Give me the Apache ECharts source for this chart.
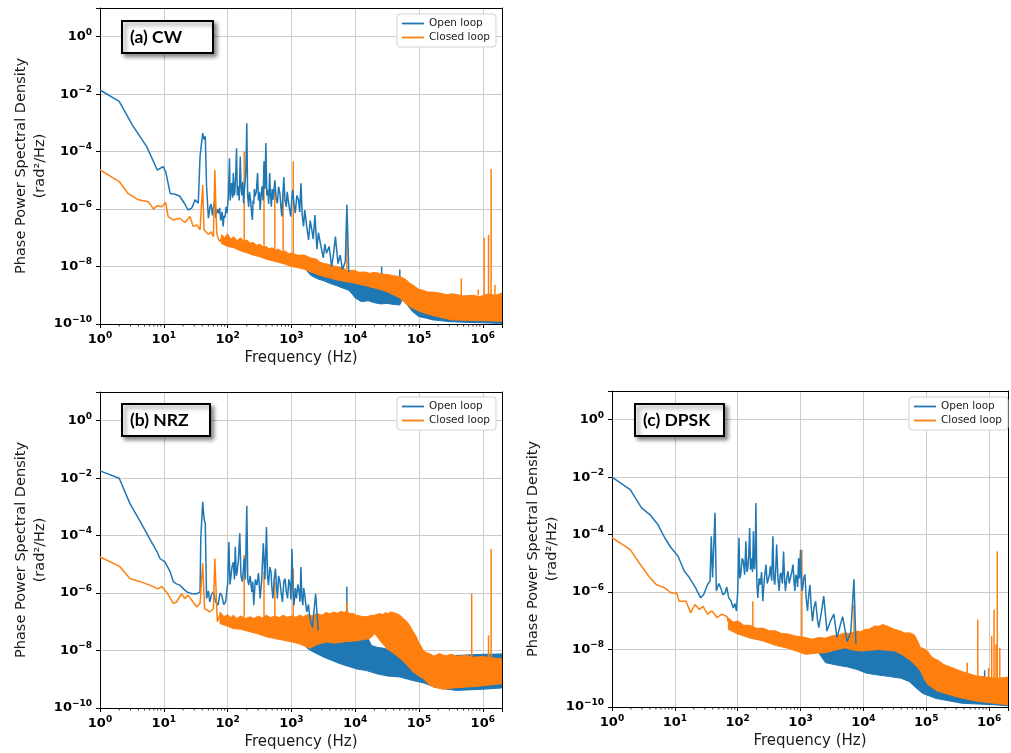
<!DOCTYPE html>
<html><head><meta charset="utf-8">
<script src="https://cdn.jsdelivr.net/npm/echarts@6/dist/echarts.min.js"></script>
<style>html,body{margin:0;padding:0;background:#fff}#c{width:1011px;height:753px}</style>
</head><body><div id="c"></div>
<script>
// ---------- tick labels / names ----------
const panelTitles = ['(a) CW', '(b) NRZ', '(c) DPSK'];
const seriesNames = ['Open loop', 'Closed loop'];
const xName = 'Frequency (Hz)';
const yName = 'Phase Power Spectral Density\n(rad\u00b2/Hz)';
const minorTickFreqs = [2,3,4,5,6,7,8,9,20,30,40,50,60,70,80,90,200,300,400,500,600,700,800,900,
  2e3,3e3,4e3,5e3,6e3,7e3,8e3,9e3,2e4,3e4,4e4,5e4,6e4,7e4,8e4,9e4,2e5,3e5,4e5,5e5,6e5,7e5,8e5,9e5];

// ---------- (a) CW ----------
const cwOpenLine = [[1,1.4e-2],[2,5.6e-3],[3.2,8.5e-4],[5.4,1.5e-4],[7.9,2.3e-5],[9.8,3.0e-5],[10.7,2.0e-5],[12.6,3.5e-6],[15,3.3e-6],[17.8,2.8e-6],[21,1.6e-6],[24,9.3e-7],[27.5,1.1e-6],[31,2.1e-6],[34.7,1.6e-6],[37,6.8e-5],[40.7,4.4e-4],[42.7,2.6e-4],[44.7,3.4e-4],[46.8,6.2e-6],[50,4.8e-7],[53,1.2e-6],[55,1.5e-6],[58,6e-7],[60,1.2e-6],[63,2e-6],[65,5e-7],[68,1e-6],[71,7.2e-7],[75,1.1e-6],[78,4e-7],[82,8e-7],[85,2.5e-7],[88,6e-7],[91,5e-7],[95,1.2e-6],[98,7.2e-7],[103,3e-6],[107,5.9e-5],[110,2e-6],[112,3.5e-6],[116,8e-6],[120,2.5e-6],[123,1.8e-5],[127,3e-6],[130,4e-6],[134,1.5e-5],[138,1.3e-4],[142,3e-6],[148,6.2e-6],[152,2e-6],[158,6.8e-5],[163,5e-6],[168,3e-6],[173,9e-6],[178,1.6e-6],[182,4e-6],[186,6.2e-6],[193,2e-5],[200,9.8e-4],[206,3e-6],[214,1.2e-6],[220,4e-6],[229,2.1e-6],[237,8e-7],[245,4.2e-7],[251,2e-6],[257,1.5e-6],[263,5e-6],[269,2.8e-6],[282,4e-6],[295,1.8e-5],[305,2e-6],[314,4e-6],[324,9.3e-7],[335,3e-6],[347,6.2e-6],[360,2e-6],[372,4.6e-5],[385,5e-6],[398,2.0e-4],[412,3e-6],[427,4.7e-6],[440,1.5e-6],[457,1.8e-5],[470,3e-6],[485,1.2e-6],[500,5e-6],[513,2.1e-6],[530,4e-6],[550,1.0e-5],[575,2.5e-6],[603,1.6e-6],[630,6e-6],[661,3.5e-6],[685,1.2e-6],[708,5.5e-7],[735,3e-6],[759,1.3e-5],[795,2e-6],[832,1.2e-6],[860,4e-6],[891,2.1e-6],[935,1e-6],[977,5.5e-7],[1010,2e-6],[1050,4.7e-6],[1100,1.5e-6],[1150,7.2e-7],[1220,3e-6],[1290,2.1e-6],[1350,8e-7],[1410,7.9e-6],[1480,6e-7],[1550,2.5e-7],[1620,9.3e-7],[1740,2.5e-7],[1860,8.5e-8],[1970,4e-7],[2090,1.9e-7],[2200,9e-8],[2340,6.2e-7],[2510,4e-8],[2650,1.5e-7],[2820,1.3e-7],[3000,3.5e-8],[3160,2e-8],[3350,6e-8],[3550,2.9e-8],[3900,5e-8],[4270,1e-8],[4600,3e-8],[4900,1.1e-7],[5370,1.26e-8],[5800,2.5e-8],[6310,7.9e-9],[7000,1.5e-8],[7410,1.4e-6],[7940,6.3e-9]];
const cwOpenBandHi = [[1600,2.2e-8],[2000,1.8e-8],[2500,1.5e-8],[3200,1.2e-8],[4000,1e-8],[5000,8.5e-9],[6300,7e-9],[7900,6e-9],[1e4,4e-9],[1.3e4,3.5e-9],[1.6e4,3.2e-9],[2e4,3e-9],[2.5e4,2.8e-9],[3.2e4,2.6e-9],[4e4,2.5e-9],[5e4,2.4e-9],[6e4,2.2e-9],[7e4,1.6e-9],[8e4,1.2e-9],[1e5,8e-10],[1.2e5,6e-10],[1.6e5,4.5e-10],[2e5,4e-10],[3e5,3.4e-10],[4e5,3e-10],[6e5,2.7e-10],[8e5,2.5e-10],[1.2e6,2.5e-10],[2e6,2.5e-10]];
const cwOpenBandLo = [[1600,9e-9],[2000,5e-9],[2500,3.8e-9],[3200,3.2e-9],[4000,2.6e-9],[5000,2.2e-9],[6300,1.8e-9],[7900,1.5e-9],[9000,1.1e-9],[1e4,8e-10],[1.26e4,6e-10],[1.6e4,6.5e-10],[2e4,5.5e-10],[2.5e4,5e-10],[3.2e4,5.2e-10],[4e4,4.8e-10],[5e4,4.6e-10],[5.6e4,8e-10],[6.6e4,4.5e-10],[7.9e4,2.7e-10],[1e5,1.8e-10],[1.3e5,1.6e-10],[1.6e5,1.4e-10],[2.2e5,1.3e-10],[3.2e5,1.2e-10],[5e5,1.15e-10],[1e6,1.1e-10],[2e6,1.05e-10]];
const cwOpenSpikes = [[2.6e4,2.8e-9,1.0e-8],[5e4,2.4e-9,7.9e-9]];
const cwClosedLine = [[1,2.3e-5],[2,9.1e-6],[2.75,3.5e-6],[4,2.1e-6],[5.75,1.8e-6],[6.9,1.0e-6],[7.8,1.3e-6],[9.3,1.2e-6],[10.7,1.7e-6],[11.7,5.5e-7],[14.1,4.2e-7],[17.8,4.8e-7],[21.4,3.4e-7],[25.7,5.5e-7],[28.8,2.5e-7],[33,2.8e-7],[37,1.9e-7],[40.7,6.9e-6],[42.7,1.9e-7],[50,1.3e-7],[55,1.6e-7],[60,1.1e-7],[63,2.3e-5],[67.6,1.4e-7],[72,9e-8],[76,7.4e-8],[82,1.1e-7]];
const cwClosedBandHi = [[80,1.3e-7],[90,1e-7],[100,1.4e-7],[112,9e-8],[125,1.1e-7],[140,8e-8],[160,1e-7],[180,7.5e-8],[200,8.5e-8],[225,6.5e-8],[250,7e-8],[285,5.5e-8],[320,6e-8],[360,4.8e-8],[400,5e-8],[450,4.2e-8],[500,4.5e-8],[560,3.8e-8],[630,4e-8],[710,3.3e-8],[800,3.5e-8],[900,2.8e-8],[1000,3e-8],[1250,2.5e-8],[1600,2.5e-8],[2000,2e-8],[2500,1.8e-8],[2800,1.4e-8],[3200,1.3e-8],[4000,1.15e-8],[5000,1e-8],[6300,9e-9],[8000,7e-9],[9300,7.6e-9],[1.15e4,6.3e-9],[1.4e4,6.5e-9],[1.7e4,5.8e-9],[2e4,6.3e-9],[2.7e4,5.5e-9],[3.5e4,5.1e-9],[4.2e4,4.7e-9],[5e4,4.5e-9],[5.6e4,4e-9],[6.3e4,3.5e-9],[7.2e4,2.6e-9],[8e4,2.3e-9],[9e4,1.9e-9],[1e5,1.6e-9],[1.17e5,1.5e-9],[1.35e5,1.3e-9],[1.6e5,1.3e-9],[2.1e5,1.2e-9],[2.7e5,1.05e-9],[3.3e5,1.12e-9],[4e5,1.05e-9],[5e5,9.5e-10],[7e5,1.0e-9],[9e5,9e-10],[1.2e6,1.1e-9],[1.6e6,1e-9],[2e6,1.2e-9]];
const cwClosedBandLo = [[80,6.3e-8],[100,5e-8],[125,4.5e-8],[160,3.5e-8],[200,3e-8],[250,2.5e-8],[320,2.2e-8],[400,1.8e-8],[500,1.6e-8],[630,1.4e-8],[800,1.2e-8],[1000,1e-8],[1300,9e-9],[1600,8e-9],[2200,6e-9],[3200,4.5e-9],[4000,4e-9],[5000,3.5e-9],[7000,3e-9],[9300,2.7e-9],[1.4e4,2.2e-9],[2e4,1.8e-9],[2.7e4,1.5e-9],[3.5e4,1.2e-9],[5e4,8e-10],[6e4,5.5e-10],[7.2e4,4e-10],[1e5,2.8e-10],[1.3e5,2.3e-10],[1.6e5,2e-10],[2.2e5,1.7e-10],[3.2e5,1.4e-10],[5e5,1.35e-10],[1e6,1.3e-10],[2e6,1.25e-10]];
const cwClosedSpikes = [[182,7e-8,1.0e-4],[372,4e-8,3.5e-5],[550,3.5e-8,9.1e-6],[741,3e-8,3.5e-6],[1070,2.5e-8,4.6e-5],[7400,8e-9,2.8e-7],[4.6e5,1e-9,3.9e-9],[8.5e5,1e-9,1.6e-9],[1.05e6,1e-9,1.0e-7],[1.23e6,1e-9,1.26e-7],[1.35e6,1e-9,2.5e-5],[1.55e6,1e-9,2.3e-9]];

// ---------- (b) NRZ ----------
const nrzOpenLine = [[1,1.8e-2],[2,1.0e-2],[2.95,1.3e-3],[4.3,3.0e-4],[6,7.9e-5],[7.8,2.8e-5],[8.7,1.6e-5],[10.5,1.2e-5],[12.6,5.5e-6],[14.1,2.5e-6],[15.8,2.1e-6],[17.8,1.9e-6],[20.4,1.4e-6],[23,1.1e-6],[27.5,9.5e-7],[33,9.5e-7],[37,1.1e-6],[38,7.9e-5],[40.7,1.5e-3],[42.7,4.0e-4],[44.7,2.6e-4],[46.8,6.5e-7],[50,1.2e-6],[52.5,4.9e-7],[56,9e-7],[60,1.1e-6],[65,5e-7],[71,3.8e-7],[76,1e-6],[81,8.5e-7],[87,4e-7],[93,4.9e-7],[100,2e-6],[105,6.0e-5],[109,2e-6],[112,3.2e-6],[117,8e-6],[123,1.2e-5],[128,3e-6],[132,4.1e-5],[137,4e-6],[141,5.5e-6],[148,1.5e-5],[155,1.2e-4],[162,4e-6],[170,2.5e-6],[176,6e-6],[182,1.6e-5],[190,3e-6],[200,1.1e-3],[207,3e-6],[214,1.9e-6],[226,4e-6],[240,1.1e-6],[248,2.5e-6],[257,3.8e-7],[272,3e-6],[288,1.9e-6],[305,5e-6],[324,6.5e-7],[343,3e-6],[363,5.4e-5],[385,3e-6],[407,2.0e-4],[422,4e-6],[437,1.9e-6],[458,8e-6],[479,5.5e-6],[495,1.5e-6],[513,6.5e-7],[537,3e-6],[562,7.1e-6],[582,2e-6],[603,6.5e-7],[630,4e-6],[661,2.5e-6],[692,1e-6],[724,4.9e-7],[760,2.5e-6],[794,3.2e-6],[830,1.2e-6],[871,6.5e-7],[912,3e-6],[955,1.9e-6],[985,6e-7],[1020,3.4e-5],[1060,1.2e-6],[1100,3.8e-7],[1150,1.5e-6],[1200,6.5e-7],[1260,2e-6],[1320,1.1e-6],[1365,5e-7],[1410,8.1e-6],[1460,7e-7],[1510,3.8e-7],[1560,1.5e-6],[1620,8.5e-7],[1680,4e-7],[1740,2.2e-7],[1850,4e-7],[1950,1.3e-7],[2140,6.3e-8],[2400,9.5e-7],[2630,5e-8]];
const nrzOpenBandHi = [[1700,1.4e-8],[2000,1.3e-8],[2500,1.7e-8],[3500,2.1e-8],[6000,2.1e-8],[1e4,2.4e-8],[1.6e4,2.6e-8],[1.8e4,1.5e-8],[2.2e4,1.3e-8],[2.8e4,1.2e-8],[3.2e4,1.1e-8],[4e4,8e-9],[5e4,8e-9],[5.6e4,1e-8],[6.3e4,1e-8],[7e4,6.3e-9],[1e5,5e-9],[2e5,6e-9],[3e5,6.6e-9],[1e6,7.4e-9],[2e6,7.6e-9]];
const nrzOpenBandLo = [[1700,1.3e-8],[2000,1e-8],[3160,6e-9],[5750,3.5e-9],[1.05e4,2.3e-9],[1.5e4,2.0e-9],[2.2e4,1.55e-9],[3.2e4,1.3e-9],[5e4,1.2e-9],[8e4,9e-10],[1.2e5,7.4e-10],[1.7e5,5.5e-10],[2.4e5,4.7e-10],[3.9e5,4.1e-10],[1e6,4.5e-10],[2e6,5e-10]];
const nrzOpenSpikes = [[7400,2e-8,1.7e-6]];
const nrzClosedLine = [[1,1.8e-5],[2,8.7e-6],[2.95,3.2e-6],[4.3,2.5e-6],[6,1.9e-6],[8.1,1.4e-6],[9.3,1.7e-6],[11,1.1e-6],[14.1,4.4e-7],[15.8,4.9e-7],[19,9.5e-7],[21.4,6.5e-7],[24,8.5e-7],[27.5,5.6e-7],[33,3.3e-7],[37,4.4e-7],[40.7,1.1e-5],[43.6,2.9e-7],[52.5,2.2e-7],[60,2.9e-7],[63,1.6e-5],[69,1.0e-7],[76,1.8e-7]];
const nrzClosedBandHi = [[76,2.2e-7],[88,1.5e-7],[100,1.8e-7],[112,1.4e-7],[123,1.7e-7],[140,1.3e-7],[160,1.6e-7],[190,1.3e-7],[224,1.5e-7],[260,1.3e-7],[300,1.6e-7],[350,1.35e-7],[407,1.7e-7],[470,1.4e-7],[550,1.6e-7],[640,1.4e-7],[741,1.7e-7],[860,1.45e-7],[1000,1.6e-7],[1170,1.45e-7],[1350,1.7e-7],[1550,1.5e-7],[1800,1.8e-7],[2100,1.6e-7],[2510,1.95e-7],[3000,1.7e-7],[3500,2.1e-7],[4000,1.9e-7],[4570,2.2e-7],[5200,2e-7],[6000,2.3e-7],[6800,2.1e-7],[7400,2.5e-7],[8200,1.9e-7],[9000,2e-7],[1.05e4,1.7e-7],[1.25e4,1.55e-7],[1.5e4,1.5e-7],[1.75e4,1.65e-7],[2e4,1.7e-7],[2.45e4,1.95e-7],[2.7e4,1.8e-7],[3e4,2.1e-7],[3.3e4,1.9e-7],[3.55e4,2.2e-7],[4.3e4,2e-7],[5e4,1.7e-7],[5.7e4,1.3e-7],[6.5e4,1e-7],[7.3e4,7e-8],[8.1e4,4.5e-8],[9e4,3.2e-8],[9.8e4,2e-8],[1.08e5,1.4e-8],[1.17e5,1e-8],[1.3e5,8.5e-9],[1.48e5,7.8e-9],[1.7e5,6.5e-9],[2.1e5,7.8e-9],[2.6e5,6.5e-9],[3.2e5,7.4e-9],[4e5,6.3e-9],[5.6e5,6.8e-9],[7e5,5.8e-9],[1e6,6.2e-9],[1.4e6,5.5e-9],[2e6,5.2e-9]];
const nrzClosedBandLo = [[76,8.7e-8],[100,7e-8],[123,5.8e-8],[160,5.5e-8],[224,4.5e-8],[300,3.8e-8],[407,3e-8],[550,2.6e-8],[741,2.3e-8],[1000,2e-8],[1350,1.7e-8],[1950,1.2e-8],[2500,1.6e-8],[3550,2e-8],[4800,1.8e-8],[6460,2e-8],[9000,2.1e-8],[1.2e4,2.3e-8],[1.7e4,2.6e-8],[2.04e4,3.9e-8],[2.45e4,2.2e-8],[3.1e4,1.2e-8],[4.4e4,6.8e-9],[5.5e4,4.5e-9],[6.5e4,3.1e-9],[8.1e4,1.8e-9],[1e5,1.3e-9],[1.17e5,1.05e-9],[1.4e5,7e-10],[1.66e5,5.4e-10],[2.4e5,4.5e-10],[3.5e5,5e-10],[5.6e5,5.4e-10],[8e5,5.6e-10],[1.15e6,6.2e-10],[2e6,7e-10]];
const nrzClosedSpikes = [[182,5e-8,2.1e-5],[372,4e-8,5.5e-6],[550,3e-8,2.5e-6],[1070,2e-8,7.1e-6],[7400,2e-7,4.9e-7],[6.7e5,1e-9,9.5e-7],[1.23e6,1e-9,3.4e-8],[1.35e6,1e-9,3.4e-5]];

// ---------- (c) DPSK ----------
const dpskOpenLine = [[1,1.0e-2],[1.95,3.7e-3],[2.95,8.5e-4],[4,5.0e-4],[5.4,2.2e-4],[6.9,7.8e-5],[8.7,3.5e-5],[11.2,1.8e-5],[14.1,5.4e-6],[17,3.2e-6],[21.4,1.4e-6],[25.7,6.3e-7],[28.8,8.3e-7],[33,1.8e-6],[36.3,2.4e-6],[38,8.7e-5],[39.8,3.2e-6],[43.6,5.8e-4],[45.7,1.1e-6],[50,2e-6],[53.7,1.4e-6],[58,8e-7],[63,9.3e-7],[67,1.5e-6],[72,6.3e-7],[78,5e-7],[85,2.8e-7],[90,4e-7],[95.5,2.2e-7],[100,1e-6],[105,7.8e-5],[108,3e-6],[112,4.1e-6],[118,1.5e-5],[123,1.2e-5],[129,4e-6],[135,5.9e-5],[140,5e-6],[145,6.9e-6],[150,2e-5],[155,1.7e-4],[160,6e-6],[166,1.5e-5],[172,5e-6],[178,1.3e-4],[182,8e-6],[186,6.2e-6],[190,2e-5],[195,1.26e-3],[202,2e-6],[209,6.3e-7],[219,3e-6],[229,1.8e-6],[240,5e-6],[251,4.8e-7],[266,3e-6],[282,9.1e-6],[295,2e-6],[309,1.8e-6],[320,4e-6],[331,7.9e-6],[347,2.5e-6],[363,8.7e-5],[376,3e-6],[389,1.8e-6],[403,6e-6],[417,4.5e-5],[437,3e-6],[457,1.1e-6],[473,4e-6],[490,4.7e-6],[513,2e-6],[537,2.6e-5],[556,3e-6],[575,1.1e-6],[603,3e-6],[631,5.4e-6],[661,2e-6],[692,1.8e-6],[725,5e-6],[759,9.1e-6],[786,2.5e-6],[813,1.1e-6],[842,4e-6],[871,3.2e-6],[900,1.5e-6],[933,1.5e-5],[965,3e-6],[1000,3.0e-5],[1035,2e-6],[1070,1.1e-6],[1120,3e-6],[1175,4.1e-6],[1230,6e-7],[1290,2.2e-7],[1350,8e-7],[1410,1.8e-6],[1480,3e-7],[1550,9.8e-8],[1640,3e-7],[1740,4.8e-7],[1850,1.2e-7],[1950,5.8e-8],[2150,2e-7],[2340,7.2e-7],[2630,4.4e-8],[3000,1e-7],[3390,1.7e-7],[3800,2.6e-8],[4200,6e-8],[4680,1.4e-7],[5500,1.9e-8],[6300,4e-8],[7080,2.8e-6],[7600,1.6e-8]];
const dpskOpenBandHi = [[2000,1.2e-8],[2500,2e-8],[4000,2.5e-8],[6300,1.6e-8],[1e4,1.26e-8],[1.74e4,1.26e-8],[3.2e4,1.1e-8],[5.6e4,5e-9],[8e4,2.2e-9],[1e5,1e-9],[1.6e5,4.5e-10],[3.2e5,2.5e-10],[6.3e5,2e-10],[2e6,1.6e-10]];
const dpskOpenBandLo = [[2000,7e-9],[2500,3.5e-9],[4000,2.8e-9],[5500,2.5e-9],[8000,2e-9],[1.12e4,1.5e-9],[1.7e4,1.3e-9],[2.6e4,1.15e-9],[4e4,1e-9],[5.4e4,7.6e-10],[7e4,4.5e-10],[8.7e4,3e-10],[1.4e5,2e-10],[3.7e5,1.35e-10],[1.2e6,1.2e-10],[2e6,1.1e-10]];
const dpskOpenSpikes = [[8.5e5,2e-10,1.9e-9]];
const dpskClosedLine = [[1,7.8e-5],[1.95,3.0e-5],[2.95,7.9e-6],[4,3.2e-6],[5.1,1.8e-6],[6.9,1.4e-6],[8.7,9.3e-7],[10.7,9.3e-7],[11.7,4.8e-7],[15.1,4.8e-7],[17.8,1.9e-7],[20.9,3.7e-7],[24.5,2.5e-7],[28.2,3.2e-7],[33,1.7e-7],[39,2.2e-7],[46.8,1.3e-7],[56,1.7e-7],[67.6,1.4e-7],[71,9e-8]];
const dpskClosedBandHi = [[71,1.26e-7],[85,9e-8],[100,1e-7],[125,7e-8],[158,7e-8],[200,5.5e-8],[251,5.6e-8],[320,4.5e-8],[398,4.5e-8],[500,3.6e-8],[631,3.5e-8],[800,3e-8],[1000,2.8e-8],[1200,2.6e-8],[1500,2.3e-8],[1950,2.6e-8],[2500,2.5e-8],[3160,3e-8],[4000,3.2e-8],[5100,3.8e-8],[6200,3.6e-8],[7400,4.4e-8],[9000,4.2e-8],[1.05e4,5e-8],[1.25e4,5.2e-8],[1.5e4,6.6e-8],[1.75e4,6.5e-8],[2.04e4,7.4e-8],[2.5e4,6.3e-8],[3.16e4,5e-8],[3.8e4,4.5e-8],[4.5e4,3.8e-8],[5.5e4,3.8e-8],[6.5e4,3.2e-8],[7.3e4,2e-8],[8.1e4,1.15e-8],[9e4,1.1e-8],[1.05e5,8.9e-9],[1.15e5,6.5e-9],[1.3e5,5.1e-9],[1.6e5,4e-9],[1.9e5,3e-9],[2.5e5,2.4e-9],[3.5e5,1.8e-9],[4.5e5,1.5e-9],[6.3e5,1.2e-9],[8e5,1.15e-9],[1e6,1.05e-9],[1.4e6,1e-9],[2e6,1.1e-9]];
const dpskClosedBandLo = [[71,5e-8],[100,3.5e-8],[158,2.5e-8],[251,2e-8],[398,1.4e-8],[631,1.1e-8],[900,8.5e-9],[1200,6.8e-9],[1800,7.5e-9],[2510,7.8e-9],[3500,9.5e-9],[5100,1.15e-8],[7000,9.5e-9],[9300,8.9e-9],[1.3e4,9.5e-9],[1.7e4,1e-8],[2.4e4,9.5e-9],[3.16e4,8.9e-9],[4.2e4,6.5e-9],[5.75e4,4e-9],[7e4,2.6e-9],[8.1e4,1.8e-9],[9.2e4,1e-9],[1.05e5,6.2e-10],[1.5e5,3.6e-10],[2.2e5,2.8e-10],[3.5e5,2.1e-10],[6.3e5,1.6e-10],[1.2e6,1.35e-10],[2e6,1.2e-10]];
const dpskClosedSpikes = [[174,4e-8,4.8e-7],[1050,1.5e-8,3e-5],[7080,4e-8,3.7e-7],[4.5e5,1.5e-9,3.5e-9],[6.6e5,1.2e-9,1.1e-7],[9.8e5,1e-9,2.3e-9],[1.1e6,1e-9,3e-8],[1.2e6,1e-9,2.5e-7],[1.29e6,1e-9,1.5e-8],[1.35e6,1e-9,2.6e-5],[1.48e6,1e-9,1.15e-8]];

// ---------- build ----------
const BLUE = '#1f77b4', ORANGE = '#ff7f0e';
const FONT = 'DejaVu Sans';
const panels = [
  {open:[cwOpenLine,cwOpenBandHi,cwOpenBandLo,cwOpenSpikes], closed:[cwClosedLine,cwClosedBandHi,cwClosedBandLo,cwClosedSpikes]},
  {open:[nrzOpenLine,nrzOpenBandHi,nrzOpenBandLo,nrzOpenSpikes], closed:[nrzClosedLine,nrzClosedBandHi,nrzClosedBandLo,nrzClosedSpikes]},
  {open:[dpskOpenLine,dpskOpenBandHi,dpskOpenBandLo,dpskOpenSpikes], closed:[dpskClosedLine,dpskClosedBandHi,dpskClosedBandLo,dpskClosedSpikes]}
];
const grids = [
  {left:100, top:8, width:402, height:316},
  {left:100, top:392, width:402, height:316},
  {left:612, top:391, width:401, height:316}
];
const legendPos = [{right:515, top:14},{right:515, top:397},{right:3, top:397}];
const boxPos = [{left:122, top:21, pr:31},{left:122, top:404, pr:22},{left:635, top:404, pr:14}];

function supLabel(v, evenOnly) {
  const l = Math.log10(v), e = Math.round(l);
  if (Math.abs(l - e) > 1e-6) return '';
  if (evenOnly && (e % 2 !== 0 || e > 0)) return '';
  return '{b|10}{e|' + String(e).replace('-', '\u2212') + '}';
}
const richLab = {
  b:{fontSize:13, fontWeight:'bold', color:'#000', fontFamily:FONT, lineHeight:18},
  e:{fontSize:9, fontWeight:'bold', color:'#000', fontFamily:FONT, lineHeight:8, verticalAlign:'top'}
};
const gridLine = {show:true, lineStyle:{color:'#cbcbcb', width:1}};

const xAxes = [], yAxes = [], series = [], legends = [], titles = [];
grids.forEach((g, i) => {
  xAxes.push({type:'log', logBase:10, gridIndex:i, min:1, max:2e6, interval:1,
    axisLine:{show:true, lineStyle:{color:'#000', width:1}},
    axisTick:{show:true, length:4, lineStyle:{color:'#000'}},
    axisLabel:{margin:7, formatter:v => supLabel(v, false), rich:richLab},
    splitLine:gridLine, minorTick:{show:false},
    name:xName, nameLocation:'middle', nameGap:27,
    nameTextStyle:{fontSize:15, color:'#1a1a1a', fontFamily:FONT}});
  yAxes.push({type:'log', logBase:10, gridIndex:i, min:1e-10, max:10, interval:2,
    axisLine:{show:true, lineStyle:{color:'#000', width:1}},
    axisTick:{show:true, length:4, lineStyle:{color:'#000'}},
    axisLabel:{margin:8, formatter:v => supLabel(v, true), rich:richLab},
    splitLine:gridLine,
    name:yName, nameLocation:'middle', nameGap:50,
    nameTextStyle:{fontSize:14.5, lineHeight:19, color:'#1a1a1a', fontFamily:FONT}});
});
grids.forEach((g, i) => {
  xAxes.push({type:'log', logBase:10, gridIndex:i, min:1, max:2e6, position:'top',
    axisLine:{show:true, lineStyle:{color:'#000', width:1}}, axisTick:{show:false}, axisLabel:{show:false}, splitLine:{show:false}});
  yAxes.push({type:'log', logBase:10, gridIndex:i, min:1e-10, max:10, position:'right',
    axisLine:{show:true, lineStyle:{color:'#000', width:1}}, axisTick:{show:false}, axisLabel:{show:false}, splitLine:{show:false}});
});

function lineSeries(gi, data, color, name) {
  return {type:'line', name, xAxisIndex:gi, yAxisIndex:gi, data, showSymbol:false, symbol:'none',
    animation:false, lineStyle:{color, width:1.5}, itemStyle:{color}, emphasis:{disabled:true}};
}
function bandSeries(gi, hi, lo, color, name) {
  return {type:'custom', name, xAxisIndex:gi, yAxisIndex:gi, silent:true, animation:false, clip:true,
    data:[hi[0]],
    renderItem(params, api) {
      const pts = hi.map(p => api.coord(p)).concat(lo.slice().reverse().map(p => api.coord(p)));
      return {type:'polygon', shape:{points:pts}, style:{fill:color, stroke:color, lineWidth:1}};
    }};
}
function spikeSeries(gi, arr, color, name) {
  return {type:'custom', name, xAxisIndex:gi, yAxisIndex:gi, silent:true, animation:false, clip:true,
    data:arr, encode:{x:0, y:[1,2]},
    renderItem(params, api) {
      const a = api.coord([api.value(0), api.value(1)]);
      const b = api.coord([api.value(0), api.value(2)]);
      return {type:'line', shape:{x1:a[0], y1:a[1], x2:b[0], y2:b[1]}, style:{stroke:color, lineWidth:1.5}};
    }};
}
function minorTickSeries(gi) {
  return {type:'custom', xAxisIndex:gi, yAxisIndex:gi, silent:true, animation:false, clip:false, z:5,
    data:minorTickFreqs.map(f => [f, 1e-10]),
    renderItem(params, api) {
      const c = api.coord([api.value(0), 1e-10]);
      return {type:'line', shape:{x1:c[0], y1:c[1], x2:c[0], y2:c[1] + 2.5}, style:{stroke:'#000', lineWidth:0.8}};
    }};
}
const lineIcon = 'path://M0,0H22V1.8H0Z';

panels.forEach((p, i) => {
  const [ol, oh, olo, os] = p.open, [cl, ch, clo, cs] = p.closed;
  series.push(lineSeries(i, ol, BLUE, seriesNames[0]));
  series.push(bandSeries(i, oh, olo, BLUE, 'open band ' + i));
  series.push(spikeSeries(i, os, BLUE, 'open spikes ' + i));
  series.push(lineSeries(i, cl, ORANGE, seriesNames[1]));
  series.push(bandSeries(i, ch, clo, ORANGE, 'closed band ' + i));
  series.push(spikeSeries(i, cs, ORANGE, 'closed spikes ' + i));
  series.push(minorTickSeries(i));
  legends.push(Object.assign({orient:'vertical', backgroundColor:'#fff', borderColor:'#d3d3d3', borderWidth:1,
    borderRadius:3, padding:[4,6,4,5], itemGap:3, itemWidth:22, itemHeight:10, selectedMode:false,
    textStyle:{fontSize:10.5, color:'#222', fontFamily:FONT},
    data:seriesNames.map(n => ({name:n, icon:lineIcon}))}, legendPos[i]));
  const b = boxPos[i];
  titles.push({text:panelTitles[i], left:b.left, top:b.top, padding:[6, b.pr, 6, 8],
    backgroundColor:'#fff', borderColor:'#000', borderWidth:2,
    shadowBlur:4, shadowOffsetX:3, shadowOffsetY:3, shadowColor:'rgba(0,0,0,0.45)',
    textStyle:{fontSize:17.5, fontWeight:'bold', fontFamily:'Lato', color:'#000', lineHeight:20}});
});

const chart = echarts.init(document.getElementById('c'));
chart.setOption({
  backgroundColor:'#fff', animation:false,
  textStyle:{fontFamily:FONT},
  title:titles, grid:grids, xAxis:xAxes, yAxis:yAxes, series, legend:legends
});
</script></body></html>
